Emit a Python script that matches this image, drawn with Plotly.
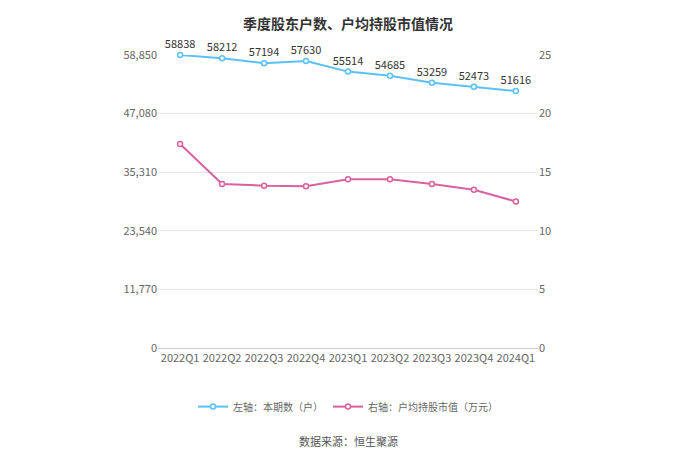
import plotly.graph_objects as go

quarters = ['2022Q1', '2022Q2', '2022Q3', '2022Q4', '2023Q1', '2023Q2', '2023Q3', '2023Q4', '2024Q1']
holders = [58838, 58212, 57194, 57630, 55514, 54685, 53259, 52473, 51616]
avg_value = [17.4, 14.0, 13.85, 13.8, 14.4, 14.4, 14.0, 13.5, 12.5]
left_ticks = [0, 11770, 23540, 35310, 47080, 58850]

fig = go.Figure()
fig.add_trace(go.Scatter(
    x=quarters, y=holders, mode='lines+markers+text', name='左轴：本期数（户）',
    text=[str(v) for v in holders], textposition='top center', cliponaxis=False,
    textfont=dict(size=11, color='#333333'),
    line=dict(color='#5bc0f8', width=2),
    marker=dict(size=5, color='white', line=dict(color='#5bc0f8', width=1.5))))
fig.add_trace(go.Scatter(
    x=quarters, y=avg_value, mode='lines+markers', name='右轴：户均持股市值（万元）',
    yaxis='y2', line=dict(color='#d9619f', width=2),
    marker=dict(size=5, color='white', line=dict(color='#d9619f', width=1.5))))

fig.update_layout(
    width=680, height=460, plot_bgcolor='white', paper_bgcolor='white',
    font=dict(family='Noto Sans CJK SC', size=11, color='#666666'),
    title=dict(text='<b>季度股东户数、户均持股市值情况</b>', x=0.5, y=0.975,
               font=dict(size=14, color='#333333')),
    margin=dict(l=150, r=150, t=47, b=120, autoexpand=False),
    xaxis=dict(showgrid=False, showline=True, linecolor='#cccccc', ticks=''),
    yaxis=dict(range=[0, 58850], tickvals=left_ticks,
               ticktext=[f'{v:,}' for v in left_ticks],
               gridcolor='#e8e8f0', zeroline=False),
    yaxis2=dict(range=[0, 25], tickvals=[0, 5, 10, 15, 20, 25], overlaying='y',
                side='right', showgrid=False, zeroline=False),
    legend=dict(orientation='h', x=0.5, xanchor='center', y=-0.2, yanchor='middle',
                font=dict(size=10, color='#666666')),
    annotations=[dict(text='数据来源：恒生聚源', xref='paper', yref='paper',
                      x=0.5, y=-0.35, showarrow=False,
                      font=dict(size=11, color='#555555'))],
)

fig.write_html('out.html')
